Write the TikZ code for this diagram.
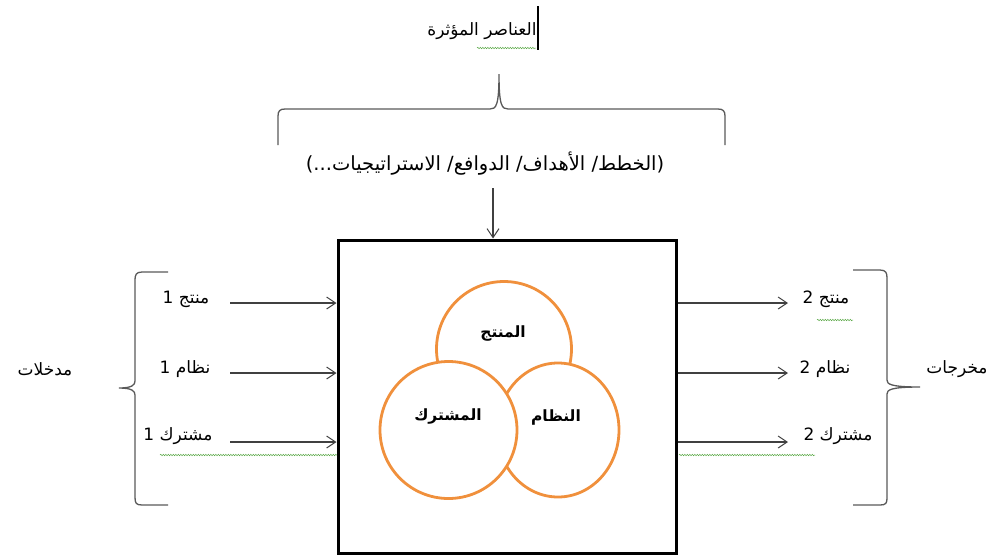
\documentclass[tikz,border=0pt]{standalone}
\usepackage{fontspec}
\newfontfamily\arabicfont[Script=Arabic]{DejaVu Sans}
\TeXXeTstate=1
\usetikzlibrary{arrows.meta,decorations.pathmorphing,shapes.geometric}
\definecolor{corange}{HTML}{F0903C}
\definecolor{cgreen}{HTML}{5DAA4A}
\begin{document}
\begin{tikzpicture}[x=1pt,y=-1pt,
 lbl/.style={font=\arabicfont\fontsize{17}{20}\selectfont, inner sep=0pt},
 biglbl/.style={font=\arabicfont\fontsize{19.5}{22}\selectfont, inner sep=0pt},
 clbl/.style={font=\arabicfont\bfseries\fontsize{15.5}{18}\selectfont, inner sep=0pt},
 arr/.style={draw=black!75, line width=1.2pt, -{Straight Barb[length=9pt,width=12pt,line width=1pt]}},
 bracepath/.style={draw=black!65, line width=1.3pt},
 circ/.style={draw=corange, line width=2.8pt, fill=white, inner sep=0pt},
 squig/.style={draw=cgreen, line width=0.5pt, decorate, decoration={snake,amplitude=0.7pt,segment length=2.5pt}},
]
\useasboundingbox (0,0) rectangle (998,558);

% top texts
\node[lbl] (top) at (482,31) {\beginR العناصر المؤثرة\endR};
\coordinate (cur1) at (538,6);
\coordinate (cur2) at (538,50);
\draw[line width=2.5pt] (cur1) -- (cur2);
\draw[squig] (477,48) -- (536,48);

% top brace
\draw[bracepath] (278,145) -- (278,116) .. controls (278,111) and (280,109) .. (285,109) -- (490,109) .. controls (496,109) and (499,106) .. (499,74)
  .. controls (499,106) and (502,109) .. (508,109) -- (718,109) .. controls (723,109) and (725,111) .. (725,116) -- (725,145);

\node[biglbl] (fac) at (485,164) {\beginR (الخطط/ الأهداف/ الدوافع/ الاستراتيجيات...)\endR};

% box
\node[draw, line width=3pt, minimum width=338pt, minimum height=313pt, inner sep=0pt] (box) at (507,396.5) {};
\coordinate (ta) at (493,188);
\draw[arr] (ta) -- (ta |- box.north);

% circles
\node[circ, circle, minimum size=135pt] (ctop) at (504,349) {};
\node[circ, ellipse, minimum width=122pt, minimum height=134pt] (cright) at (558,430) {};
\node[circ, circle, minimum size=137pt] (cleft) at (448.5,430) {};
\node[clbl] (tprod) at (503,333) {\beginR المنتج\endR};
\node[clbl] (tpart) at (448,416) {\beginR المشترك\endR};
\node[clbl] (tsys) at (556,417) {\beginR النظام\endR};

% left inputs
\node[lbl] (in1) at (186,299) {\beginR منتج 1\endR};
\node[lbl] (in2) at (185,369) {\beginR نظام 1\endR};
\node[lbl] (in3) at (178,436) {\beginR مشترك 1\endR};
\coordinate (l1) at (230,303);
\coordinate (l2) at (230,373);
\coordinate (l3) at (230,442);
\draw[arr] (l1) -- (l1 -| box.west);
\draw[arr] (l2) -- (l2 -| box.west);
\draw[arr] (l3) -- (l3 -| box.west);
\draw[squig] (160,455) -- (337,455);

% right outputs
\node[lbl] (out1) at (826,299) {\beginR منتج 2\endR};
\node[lbl] (out2) at (825,369) {\beginR نظام 2\endR};
\node[lbl] (out3) at (838,436) {\beginR مشترك 2\endR};
\coordinate (r1) at (788,303);
\coordinate (r2) at (788,373);
\coordinate (r3) at (788,442);
\draw[arr] (r1 -| box.east) -- (r1);
\draw[arr] (r2 -| box.east) -- (r2);
\draw[arr] (r3 -| box.east) -- (r3);
\draw[squig] (679,455) -- (815,455);
\draw[squig] (817,320) -- (853,320);

% left brace
\draw[bracepath] (168,272) -- (142,272) .. controls (136,272) and (135,275) .. (135,280) -- (135,381) .. controls (135,385) and (132,388) .. (119,388)
  .. controls (132,388) and (135,391) .. (135,395) -- (135,497) .. controls (135,503) and (136,505) .. (142,505) -- (168,505);
\node[lbl] (inL) at (45,369) {\beginR مدخلات\endR};

% right brace
\draw[bracepath] (853,270) -- (880,270) .. controls (886,270) and (887,273) .. (887,278) -- (887,380) .. controls (887,384) and (890,387) .. (920,387)
  .. controls (890,387) and (887,390) .. (887,394) -- (887,498) .. controls (887,503) and (886,505) .. (880,505) -- (853,505);
\node[lbl] (outL) at (957,369) {\beginR مخرجات\endR};
\end{tikzpicture}
\end{document}
